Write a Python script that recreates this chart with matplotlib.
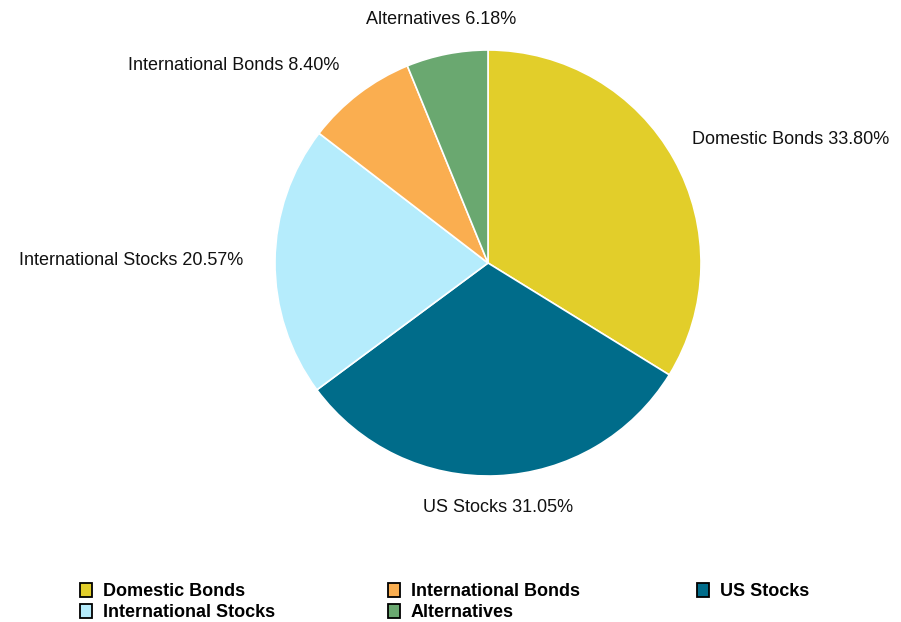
import numpy as np
import matplotlib
matplotlib.use("Agg")
import matplotlib.pyplot as plt
from matplotlib.patches import Rectangle

categories = ["Domestic Bonds", "US Stocks", "International Stocks", "International Bonds", "Alternatives"]
values = [33.80, 31.05, 20.57, 8.40, 6.18]
colors = ["#E2CE2A", "#006C8A", "#B5ECFC", "#FAAE50", "#6AA870"]
legend_order = ["Domestic Bonds", "International Bonds", "US Stocks", "International Stocks", "Alternatives"]

W, H = 901, 622
fig = plt.figure(figsize=(W / 100, H / 100), dpi=100)
cx, cy, r = 488, 263, 213
ax = fig.add_axes([(cx - r) / W, (H - cy - r) / H, 2 * r / W, 2 * r / H])

wedges, _ = ax.pie(values, colors=colors, startangle=90, counterclock=False,
                   wedgeprops=dict(edgecolor="white", linewidth=1.2), radius=1.0)
ax.set_xlim(-1, 1)
ax.set_ylim(-1, 1)
ax.set_aspect("auto")
ax.axis("off")

for w, name, v in zip(wedges, categories, values):
    ang = np.deg2rad((w.theta1 + w.theta2) / 2)
    c, s = np.cos(ang), np.sin(ang)
    d = 1.15
    x, y = d * c, d * s
    if c > 0.3:
        ha = "left"
        x -= 0.045
        y += 0.02
    elif c < -0.3:
        ha = "right"
    else:
        ha = "center"
    if s > 0.7:
        y += 0.014
    ax.text(x, y, f"{name} {v:.2f}%", ha=ha, va="center", fontsize=13,
            family="Liberation Sans", color="#111111", clip_on=False)

# legend drawn in figure pixels, row-major in 3 columns
lookup = dict(zip(categories, colors))
col_x = [80, 388, 697]
row_y = [590, 611]
for i, name in enumerate(legend_order):
    px = col_x[i % 3]
    py = row_y[i // 3]
    fig.patches.append(Rectangle(((px) / W, 1 - (py + 7) / H), 12 / W, 14 / H,
                                 transform=fig.transFigure, facecolor=lookup[name],
                                 edgecolor="black", linewidth=1.3))
    fig.text((px + 23) / W, 1 - (py + 1.5) / H, name, ha="left", va="center",
             family="Liberation Sans", weight="bold", fontsize=13, color="black")

fig.savefig("out.png", dpi=100)
